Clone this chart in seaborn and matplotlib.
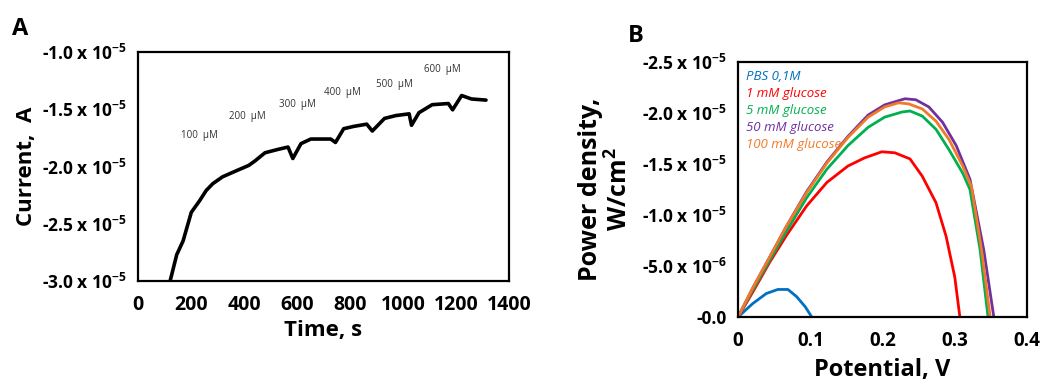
import matplotlib
matplotlib.use("Agg")
import matplotlib.pyplot as plt
import numpy as np
import pandas as pd
import seaborn as sns

# Panel A: amperometric response, current (A) vs time (s)
time_s = [121, 146, 170, 201, 232, 257, 282, 319, 368, 418, 442, 479, 529, 566,
          584, 615, 652, 727, 745, 776, 813, 863, 884, 930, 973, 1023, 1032,
          1060, 1110, 1171, 1187, 1221, 1258, 1313]
current_a = [-3.00e-5, -2.77e-5, -2.65e-5, -2.40e-5, -2.30e-5, -2.21e-5, -2.15e-5,
             -2.09e-5, -2.04e-5, -1.99e-5, -1.95e-5, -1.88e-5, -1.85e-5, -1.83e-5,
             -1.93e-5, -1.80e-5, -1.76e-5, -1.76e-5, -1.79e-5, -1.67e-5, -1.65e-5,
             -1.63e-5, -1.69e-5, -1.58e-5, -1.555e-5, -1.54e-5, -1.64e-5, -1.53e-5,
             -1.46e-5, -1.45e-5, -1.505e-5, -1.38e-5, -1.41e-5, -1.42e-5]

step_labels = ["100  μM", "200  μM", "300  μM", "400  μM", "500  μM", "600  μM"]
step_time = [232, 411, 603, 770, 967, 1147]
step_current = [-1.73e-5, -1.56e-5, -1.46e-5, -1.35e-5, -1.28e-5, -1.15e-5]

a_xticks = [0, 200, 400, 600, 800, 1000, 1200, 1400]
a_yticks = [-3.0e-5, -2.5e-5, -2.0e-5, -1.5e-5, -1.0e-5]
a_ytick_labels = ["-3.0 x 10$^{-5}$", "-2.5 x 10$^{-5}$", "-2.0 x 10$^{-5}$",
                  "-1.5 x 10$^{-5}$", "-1.0 x 10$^{-5}$"]

# Panel B: power density (W/cm2) vs potential (V)
pbs_v = [0.0, 0.020, 0.039, 0.055, 0.069, 0.081, 0.093, 0.102]
pbs_p = [0.0, -0.13e-5, -0.23e-5, -0.27e-5, -0.27e-5, -0.20e-5, -0.10e-5, 0.0]

g1_v = [0.0, 0.020, 0.044, 0.067, 0.095, 0.123, 0.152, 0.175, 0.199, 0.217,
        0.238, 0.255, 0.274, 0.288, 0.300, 0.307]
g1_p = [0.0, -0.24e-5, -0.54e-5, -0.80e-5, -1.09e-5, -1.32e-5, -1.48e-5, -1.56e-5,
        -1.62e-5, -1.61e-5, -1.55e-5, -1.38e-5, -1.12e-5, -0.79e-5, -0.39e-5, 0.0]

g5_v = [0.0, 0.020, 0.044, 0.067, 0.095, 0.123, 0.152, 0.180, 0.203, 0.227,
        0.238, 0.255, 0.274, 0.292, 0.311, 0.321, 0.335, 0.346]
g5_p = [0.0, -0.26e-5, -0.56e-5, -0.84e-5, -1.17e-5, -1.45e-5, -1.68e-5, -1.86e-5,
        -1.96e-5, -2.01e-5, -2.02e-5, -1.97e-5, -1.84e-5, -1.64e-5, -1.41e-5,
        -1.25e-5, -0.66e-5, 0.0]

g50_v = [0.0, 0.020, 0.044, 0.067, 0.095, 0.123, 0.152, 0.180, 0.203, 0.231,
         0.246, 0.264, 0.283, 0.302, 0.321, 0.340, 0.354]
g50_p = [0.0, -0.28e-5, -0.59e-5, -0.89e-5, -1.23e-5, -1.52e-5, -1.77e-5, -1.98e-5,
         -2.08e-5, -2.14e-5, -2.13e-5, -2.06e-5, -1.91e-5, -1.68e-5, -1.35e-5,
         -0.66e-5, 0.0]

g100_v = [0.0, 0.020, 0.044, 0.067, 0.095, 0.123, 0.152, 0.180, 0.203, 0.222,
          0.236, 0.255, 0.274, 0.292, 0.311, 0.323, 0.337, 0.349]
g100_p = [0.0, -0.28e-5, -0.59e-5, -0.89e-5, -1.22e-5, -1.51e-5, -1.76e-5, -1.96e-5,
          -2.06e-5, -2.10e-5, -2.09e-5, -2.04e-5, -1.92e-5, -1.74e-5, -1.48e-5,
          -1.28e-5, -0.66e-5, 0.0]

series_names = ["PBS 0,1M", "1 mM glucose", "5 mM glucose", "50 mM glucose",
                "100 mM glucose"]
series_colors = ["#0070C0", "#FF0000", "#00B050", "#7030A0", "#F07A28"]

b_xticks = [0, 0.1, 0.2, 0.3, 0.4]
b_xtick_labels = ["0", "0.1", "0.2", "0.3", "0.4"]
b_yticks = [0.0, -0.5e-5, -1.0e-5, -1.5e-5, -2.0e-5, -2.5e-5]
b_ytick_labels = ["-0.0", "-5.0 x 10$^{-6}$", "-1.0 x 10$^{-5}$",
                  "-1.5 x 10$^{-5}$", "-2.0 x 10$^{-5}$", "-2.5 x 10$^{-5}$"]

sns.set_style("white")
FONT = "Open Sans"
plt.rcParams["font.family"] = [FONT, "DejaVu Sans"]
plt.rcParams["text.color"] = "black"
plt.rcParams["axes.labelcolor"] = "black"
plt.rcParams["xtick.labelcolor"] = "black"
plt.rcParams["ytick.labelcolor"] = "black"
plt.rcParams["mathtext.fontset"] = "custom"
plt.rcParams["mathtext.rm"] = f"{FONT}:bold"
plt.rcParams["mathtext.it"] = f"{FONT}:bold"
plt.rcParams["mathtext.default"] = "rm"

fig = plt.figure(figsize=(10.41, 3.85), dpi=100)
ax_a = fig.add_axes([0.1326, 0.2701, 0.3564, 0.5948])
ax_b = fig.add_axes([0.709, 0.1766, 0.2776, 0.6623])

# ---- Panel A
df_a = pd.DataFrame({"time": time_s, "current": current_a})
sns.lineplot(data=df_a, x="time", y="current", color="black", linewidth=2.6,
             estimator=None, ax=ax_a)
for label, t, c in zip(step_labels, step_time, step_current):
    ax_a.text(t, c, label, fontsize=7, color="#333333", ha="center", va="center")

ax_a.set_xlim(0, 1400)
ax_a.set_ylim(-3.0e-5, -1.0e-5)
ax_a.set_xticks(a_xticks)
ax_a.set_xticklabels([str(v) for v in a_xticks])
ax_a.set_yticks(a_yticks)
ax_a.set_yticklabels(a_ytick_labels)
ax_a.set_xlabel("Time, s", fontsize=16, fontweight="bold", labelpad=4)
ax_a.set_ylabel("Current,  A", fontsize=16, fontweight="bold", labelpad=4)

# ---- Panel B
frames = []
for name, v, p in zip(series_names, [pbs_v, g1_v, g5_v, g50_v, g100_v],
                      [pbs_p, g1_p, g5_p, g50_p, g100_p]):
    frames.append(pd.DataFrame({"potential": v, "power": p, "series": name}))
df_b = pd.concat(frames, ignore_index=True)
sns.lineplot(data=df_b, x="potential", y="power", hue="series",
             hue_order=series_names, palette=series_colors, linewidth=2.0,
             estimator=None, sort=False, ax=ax_b)

ax_b.set_xlim(0, 0.4)
ax_b.set_ylim(0, -2.5e-5)
ax_b.set_xticks(b_xticks)
ax_b.set_xticklabels(b_xtick_labels)
ax_b.set_yticks(b_yticks)
ax_b.set_yticklabels(b_ytick_labels)
ax_b.set_xlabel("Potential, V", fontsize=17, fontweight="bold", labelpad=5)
ax_b.set_ylabel("Power density,\nW/cm$^2$", fontsize=18, fontweight="bold",
                labelpad=6, linespacing=1.15)

leg = ax_b.legend(loc="upper left", frameon=False, handlelength=0,
                  handletextpad=0, labelcolor="linecolor", borderaxespad=0.2,
                  labelspacing=0.3, prop={"family": FONT, "style": "italic",
                                          "size": 9.5})
for h in leg.legend_handles:
    h.set_visible(False)

for ax in (ax_a, ax_b):
    for spine in ax.spines.values():
        spine.set_visible(True)
        spine.set_color("black")
        spine.set_linewidth(1.6)
    ax.tick_params(axis="both", which="major", direction="out", length=4,
                   width=0.8, color="#bbbbbb", labelsize=14, pad=6)
    ax.tick_params(axis="y", labelsize=12.5, pad=4)
    for lbl in ax.get_xticklabels() + ax.get_yticklabels():
        lbl.set_fontweight("bold")

ax_b.tick_params(axis="x", labelsize=13.5)

fig.text(0.012, 0.925, "A", fontsize=17, fontweight="bold", va="center")
fig.text(0.603, 0.906, "B", fontsize=17, fontweight="bold", va="center")

fig.savefig("out.png", dpi=100)
